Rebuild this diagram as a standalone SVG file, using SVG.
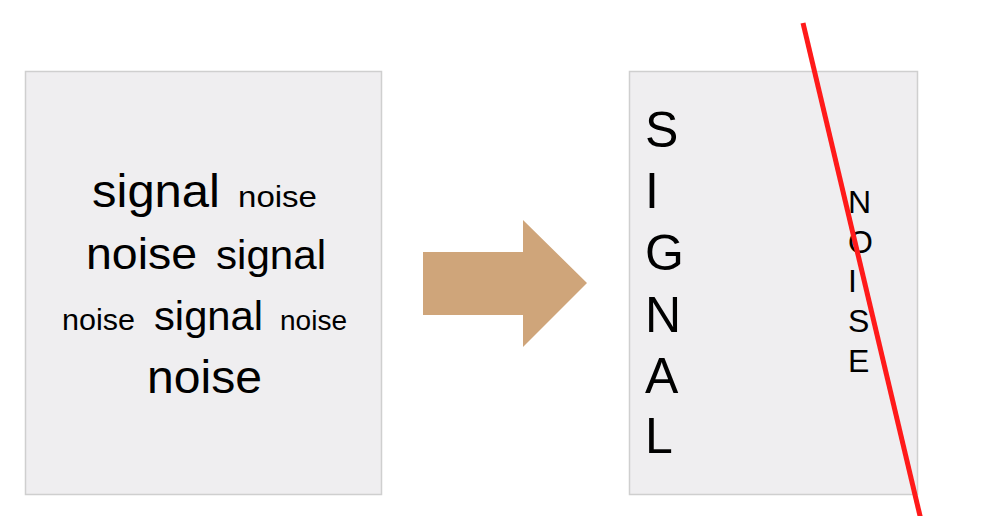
<svg xmlns="http://www.w3.org/2000/svg" width="1000" height="516" viewBox="0 0 1000 516">
  <style>
    .panel { fill: #efeef0; stroke: #cfcfcf; stroke-width: 1.5; }
    .t { font-family: "Liberation Sans", Arial, sans-serif; fill: #000000; }
    .sig { font-size: 50px; }
    .noi { font-size: 32px; }
  </style>
  <rect width="1000" height="516" fill="#ffffff"/>
  <g id="before">
    <rect class="panel" x="25.5" y="71.5" width="356" height="423"/>
    <text class="t" x="92" y="207" font-size="47" textLength="128" lengthAdjust="spacingAndGlyphs">signal</text>
    <text class="t" x="238" y="207" font-size="30" textLength="79" lengthAdjust="spacingAndGlyphs">noise</text>
    <text class="t" x="86" y="269" font-size="45" textLength="111" lengthAdjust="spacingAndGlyphs">noise</text>
    <text class="t" x="216" y="269" font-size="40" textLength="110" lengthAdjust="spacingAndGlyphs">signal</text>
    <text class="t" x="62" y="330" font-size="29" textLength="73" lengthAdjust="spacingAndGlyphs">noise</text>
    <text class="t" x="154" y="330" font-size="40" textLength="109" lengthAdjust="spacingAndGlyphs">signal</text>
    <text class="t" x="280" y="330" font-size="27" textLength="67" lengthAdjust="spacingAndGlyphs">noise</text>
    <text class="t" x="147" y="393" font-size="46" textLength="115" lengthAdjust="spacingAndGlyphs">noise</text>
  </g>
  <g id="transform-arrow">
    <polygon points="423,252 523,252 523,220 587,283 523,347 523,315 423,315" fill="#cfa57a"/>
  </g>
  <g id="after">
    <rect class="panel" x="629.5" y="71.5" width="288" height="423"/>
    <g class="t sig">
      <text x="645" y="147">S</text>
      <text x="645" y="208">I</text>
      <text x="645" y="270">G</text>
      <text x="645" y="332">N</text>
      <text x="645" y="393">A</text>
      <text x="645" y="453">L</text>
    </g>
    <g class="t noi">
      <text x="848" y="213">N</text>
      <text x="848" y="253">O</text>
      <text x="848" y="292">I</text>
      <text x="848" y="332">S</text>
      <text x="848" y="372">E</text>
    </g>
  </g>
  <g id="connectors">
    <line x1="803" y1="23" x2="921" y2="520" stroke="#ff1a1a" stroke-width="5" stroke-linecap="butt"/>
  </g>
</svg>
